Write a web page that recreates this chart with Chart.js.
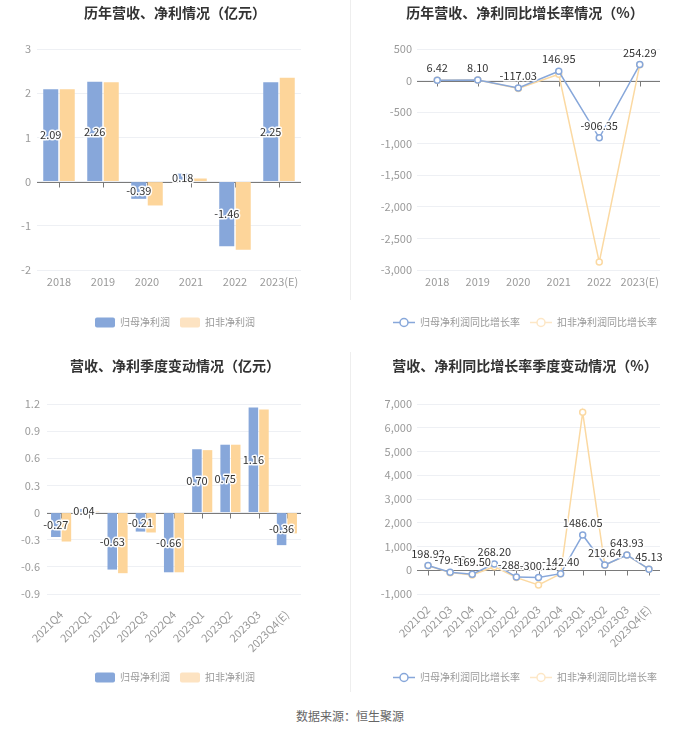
<!DOCTYPE html>
<html><head><meta charset="utf-8">
<script src="https://cdn.jsdelivr.net/npm/chart.js@4.4.0/dist/chart.umd.min.js"></script>
<style>
html,body{margin:0;padding:0;background:#fff;}
#wrap{position:relative;width:700px;height:733px;overflow:hidden;}
canvas{position:absolute;}
.div{position:absolute;width:1px;background:#eeeeee;}
#src{position:absolute;left:0;width:700px;top:707px;text-align:center;font:12px "Noto Sans CJK SC",sans-serif;color:#666;}
</style></head>
<body><div id="wrap">
<canvas id="c1" width="350" height="345" style="left:0;top:0"></canvas>
<canvas id="c2" width="350" height="345" style="left:350px;top:0"></canvas>
<canvas id="c3" width="350" height="355" style="left:0;top:345px"></canvas>
<canvas id="c4" width="350" height="355" style="left:350px;top:345px"></canvas>
<div class="div" style="left:350px;top:0;height:300px"></div>
<div class="div" style="left:350px;top:352px;height:340px"></div>
<div id="src">数据来源：恒生聚源</div>
</div>
<script>
// ---- data ----
const years = ['2018','2019','2020','2021','2022','2023(E)'];
const netProfit = [2.09, 2.26, -0.39, 0.18, -1.46, 2.25];
const deductedProfit = [2.09, 2.25, -0.54, 0.07, -1.54, 2.35];
const netGrowth = [6.42, 8.10, -117.03, 146.95, -906.35, 254.29];
const deductedGrowth = [5.5, 7.2, -125, 100, -2875, 250];

const quarters = ['2021Q4','2022Q1','2022Q2','2022Q3','2022Q4','2023Q1','2023Q2','2023Q3','2023Q4(E)'];
const qNetProfit = [-0.27, 0.04, -0.63, -0.21, -0.66, 0.70, 0.75, 1.16, -0.36];
const qDeductedProfit = [-0.32, 0.01, -0.67, -0.22, -0.66, 0.69, 0.75, 1.14, -0.23];

const growthQuarters = ['2021Q2','2021Q3','2021Q4','2022Q1','2022Q2','2022Q3','2022Q4','2023Q1','2023Q2','2023Q3','2023Q4(E)'];
const qNetGrowth = [198.92, -79.58, -169.50, 268.20, -288.00, -300.15, -142.40, 1486.05, 219.64, 643.93, 45.13];
const qDeductedGrowth = [190, -100, -200, 150, -310, -620, -150, 6650, 215, 640, 45];

const titles = ['历年营收、净利情况（亿元）','历年营收、净利同比增长率情况（%）','营收、净利季度变动情况（亿元）','营收、净利同比增长率季度变动情况（%）'];
const barNames = ['归母净利润','扣非净利润'];
const lineNames = ['归母净利润同比增长率','扣非净利润同比增长率'];

// ---- styles ----
const FONT = '"Noto Sans CJK SC", "Noto Sans", sans-serif';
const BLUE = '#87a7da';
const ORANGE = '#fdd59a';
const BLUE_L = '#87a7da';
const ORANGE_L = '#fbd9a2';
const GRID = '#eef0f4';
const TICK = '#9a9a9a';

Chart.defaults.font.family = FONT;
Chart.defaults.animation = false;

const valueLabels = {
  id: 'valueLabels',
  afterDatasetsDraw(chart) {
    const ctx = chart.ctx;
    const meta = chart.getDatasetMeta(0);
    const vals = chart.data.datasets[0].data;
    ctx.save();
    ctx.font = '11px ' + FONT;
    ctx.textAlign = 'center';
    ctx.textBaseline = 'middle';
    ctx.lineJoin = 'round';
    meta.data.forEach((el, i) => {
      const t = vals[i].toFixed(2);
      let x = el.x, y;
      if (chart.config.type === 'bar') y = (el.y + el.base) / 2;
      else y = el.y - 12;
      ctx.lineWidth = 3;
      ctx.strokeStyle = 'rgba(255,255,255,0.95)';
      ctx.strokeText(t, x, y);
      ctx.fillStyle = '#333';
      ctx.fillText(t, x, y);
    });
    ctx.restore();
  }
};

const zeroAxis = {
  id: 'zeroAxis',
  beforeDatasetsDraw(chart) {
    const ctx = chart.ctx, a = chart.chartArea;
    const y0 = Math.round(chart.scales.y.getPixelForValue(0)) + 0.5;
    const xs = chart.scales.x;
    ctx.save();
    ctx.strokeStyle = '#7a7a7a';
    ctx.lineWidth = 1;
    ctx.beginPath();
    ctx.moveTo(a.left, y0); ctx.lineTo(a.right, y0);
    for (let i = 0; i < chart.data.labels.length; i++) {
      const x = Math.round(xs.getPixelForValue(i)) + 0.5;
      ctx.moveTo(x, y0); ctx.lineTo(x, y0 + 5);
    }
    ctx.stroke();
    ctx.restore();
  }
};

function legendLine(color) {
  const c = document.createElement('canvas');
  c.width = 22; c.height = 11;
  const g = c.getContext('2d');
  g.strokeStyle = color; g.lineWidth = 1.5;
  g.beginPath(); g.moveTo(0, 5.5); g.lineTo(22, 5.5); g.stroke();
  g.beginPath(); g.arc(11, 5.5, 4, 0, Math.PI * 2);
  g.fillStyle = '#fff'; g.fill(); g.stroke();
  return c;
}

function makeOptions(cfg) {
  return {
    responsive: false,
    animation: false,
    devicePixelRatio: 1,
    layout: { padding: { left: 0, right: 0, top: 0, bottom: cfg.padBottom } },
    plugins: {
      title: {
        display: true, text: cfg.title, color: '#333',
        font: { size: 14, weight: 'bold', family: FONT },
        padding: { top: cfg.titleTop, bottom: cfg.titleBottom }
      },
      legend: {
        position: 'bottom',
        labels: {
          color: '#999', font: { size: 10, family: FONT }, padding: 10,
          boxWidth: 20, boxHeight: 10,
          useBorderRadius: true, borderRadius: 2,
          usePointStyle: cfg.line, pointStyleWidth: cfg.line ? 22 : undefined,
          generateLabels(chart) {
            const items = Chart.defaults.plugins.legend.labels.generateLabels(chart);
            items.forEach((it, i) => {
              if (cfg.line) {
                it.pointStyle = legendLine(i === 0 ? BLUE_L : '#fde7c6');
              } else {
                it.fillStyle = i === 0 ? BLUE : '#fde3c2';
                it.strokeStyle = it.fillStyle;
                it.lineWidth = 0;
                it.borderRadius = 2;
              }
            });
            return items;
          }
        }
      },
      tooltip: { enabled: false }
    },
    scales: {
      x: {
        offset: true,
        grid: { display: false, drawTicks: false, offset: true },
        border: { display: false },
        ticks: {
          color: TICK, font: { size: 11, family: FONT }, padding: cfg.xPad,
          autoSkip: false, maxRotation: cfg.rot, minRotation: cfg.rot
        },
        afterFit(s) { s.height = cfg.xH; }
      },
      y: {
        min: cfg.min, max: cfg.max,
        grid: { color: GRID, drawTicks: false },
        border: { display: false },
        ticks: {
          stepSize: cfg.step, color: TICK, font: { size: 11, family: FONT }, padding: cfg.yPad,
          callback(v) {
            if (cfg.dec) return Math.abs(v) < 1e-9 ? '0' : Number(v.toFixed(1)).toString();
            return Number(v).toLocaleString('en-US');
          }
        },
        afterFit(s) { s.width = cfg.yW; }
      },
      yR: {
        position: 'right', display: true,
        grid: { display: false, drawTicks: false }, border: { display: false },
        ticks: { display: false },
        afterFit(s) { s.width = cfg.rW; }
      }
    }
  };
}

function barChart(id, labels, a, b, cfg) {
  return new Chart(document.getElementById(id), {
    type: 'bar',
    data: {
      labels,
      datasets: [
        { label: barNames[0], data: a, backgroundColor: BLUE, categoryPercentage: cfg.cat, barPercentage: cfg.bar, yAxisID: 'y' },
        { label: barNames[1], data: b, backgroundColor: ORANGE, categoryPercentage: cfg.cat, barPercentage: cfg.bar, yAxisID: 'y' }
      ]
    },
    options: makeOptions(cfg),
    plugins: [zeroAxis, valueLabels]
  });
}

function lineChart(id, labels, a, b, cfg) {
  const ds = (label, data, color) => ({
    label, data, borderColor: color, backgroundColor: '#fff', borderWidth: 1.5,
    pointRadius: 3, pointBorderWidth: 1.5, pointBackgroundColor: '#fff', pointBorderColor: color,
    tension: 0, yAxisID: 'y'
  });
  return new Chart(document.getElementById(id), {
    type: 'line',
    data: { labels, datasets: [ds(lineNames[0], a, BLUE_L), ds(lineNames[1], b, ORANGE_L)] },
    options: makeOptions(cfg),
    plugins: [zeroAxis, valueLabels]
  });
}

barChart('c1', years, netProfit, deductedProfit, {
  title: titles[0], titleTop: 4.5, titleBottom: 27.7, padBottom: 7.5, xH: 37.5, xPad: 5, rot: 0,
  min: -2, max: 3, step: 1, yW: 37, yPad: 6, rW: 49, cat: 0.75, bar: 0.91, line: false, dec: true
});
lineChart('c2', years, netGrowth, deductedGrowth, {
  title: titles[1], titleTop: 4.5, titleBottom: 27.7, padBottom: 7.5, xH: 37.5, xPad: 5, rot: 0,
  min: -3000, max: 500, step: 500, yW: 67, yPad: 5, rW: 40, line: true, dec: false
});
barChart('c3', quarters, qNetProfit, qDeductedProfit, {
  title: titles[2], titleTop: 12.6, titleBottom: 29.6, padBottom: 7.5, xH: 68.5, xPad: 14, rot: 45,
  min: -0.9, max: 1.2, step: 0.3, yW: 47, yPad: 7, rW: 49, cat: 0.75, bar: 0.9, line: false, dec: true
});
lineChart('c4', growthQuarters, qNetGrowth, qDeductedGrowth, {
  title: titles[3], titleTop: 12.6, titleBottom: 29.6, padBottom: 7.5, xH: 68.5, xPad: 9, rot: 45,
  min: -1000, max: 7000, step: 1000, yW: 67, yPad: 5, rW: 40, line: true, dec: false
});
</script>
</body></html>
